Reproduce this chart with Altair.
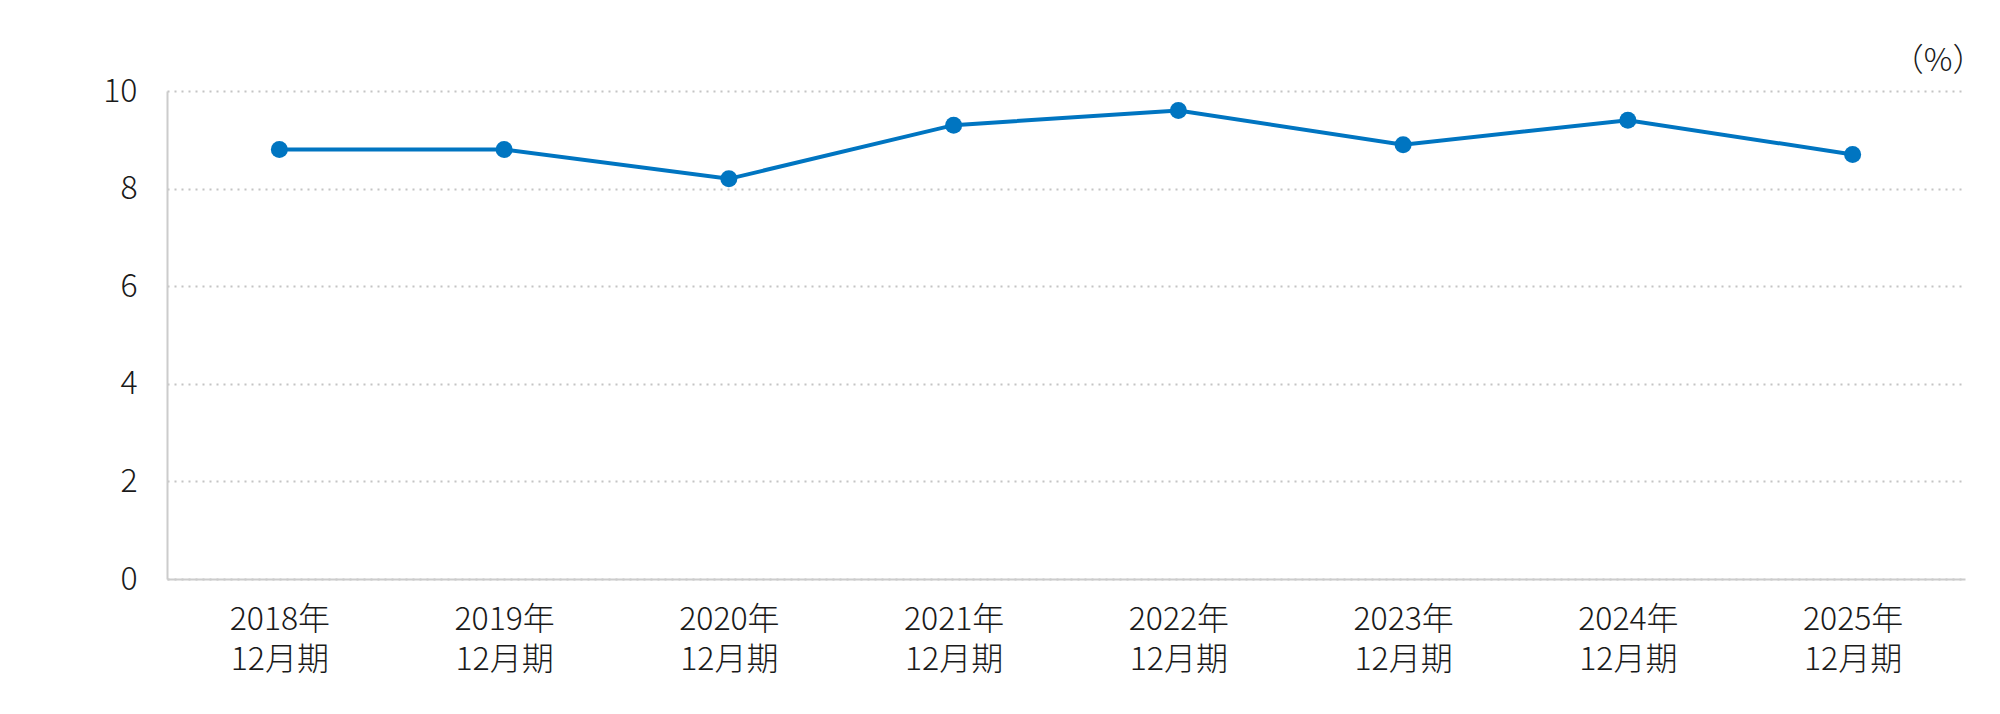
import altair as alt
import pandas as pd

years = ["2018年", "2019年", "2020年", "2021年", "2022年", "2023年", "2024年", "2025年"]
period = "12月期"
values = [8.8, 8.8, 8.2, 9.3, 9.6, 8.9, 9.4, 8.7]
y_ticks = [0, 2, 4, 6, 8, 10]
unit_label = "（%）"

df = pd.DataFrame({"cat": [y + "|" + period for y in years], "value": values})

FONT = "Noto Sans CJK JP"
TEXT = "#1a1a1a"
BLUE = "#0075C1"
W, H = 1798, 488

x = alt.X(
    "cat:N",
    sort=None,
    scale=alt.Scale(type="point", padding=0.5),
    axis=alt.Axis(
        title=None,
        labelAngle=0,
        labelExpr="split(datum.label, '|')",
        labelFont=FONT,
        labelFontSize=32,
        labelFontWeight=300,
        labelColor=TEXT,
        labelLineHeight=40,
        labelPadding=25,
        ticks=False,
        grid=False,
        domainColor="#cccccc",
        domainWidth=2,
    ),
)
y = alt.Y(
    "value:Q",
    scale=alt.Scale(domain=[0, 10], nice=False, zero=True),
    axis=alt.Axis(
        title=unit_label,
        titleAngle=0,
        titleAlign="right",
        titleBaseline="alphabetic",
        titleX=W + 19,
        titleY=-21,
        titleFont=FONT,
        titleFontSize=32,
        titleFontWeight=300,
        titleColor=TEXT,
        values=y_ticks,
        labelFont=FONT,
        labelFontSize=32,
        labelFontWeight=300,
        labelColor=TEXT,
        labelPadding=30,
        ticks=False,
        grid=True,
        gridColor="#c4c4c4",
        gridDash=[2, 5],
        gridWidth=2,
        domainColor="#cccccc",
        domainWidth=2,
    ),
)

base = alt.Chart(df)
line = base.mark_line(color=BLUE, strokeWidth=4).encode(x=x, y=y)
pts = base.mark_point(filled=True, color=BLUE, size=290, opacity=1).encode(x=x, y=y)

chart = (
    alt.layer(line, pts)
    .properties(
        width=W,
        height=H,
        padding={"left": 159, "top": 83, "right": 20, "bottom": 110},
        autosize=alt.AutoSizeParams(type="none"),
        view=alt.ViewBackground(strokeOpacity=0, strokeWidth=0),
    )
    .configure_view(stroke="transparent", strokeWidth=0, strokeOpacity=0)
    .configure(background="white")
)

chart.save("out.html", embed_options={"renderer": "svg", "actions": False})
